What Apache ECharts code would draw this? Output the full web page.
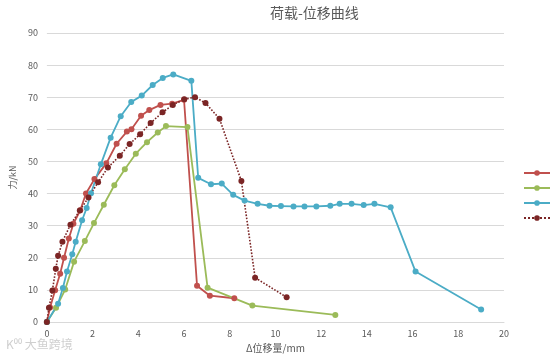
<!DOCTYPE html>
<html><head><meta charset="utf-8">
<script src="https://cdn.jsdelivr.net/npm/echarts@6/dist/echarts.min.js"></script>
<style>html,body{margin:0;padding:0;background:#fff}#c{width:554px;height:358px}</style>
</head><body><div id="c"></div>
<script>
const seriesNames = ['试件1', '试件2', '试件3', '试件4'];
const xTicks = [0, 2, 4, 6, 8, 10, 12, 14, 16, 18, 20];
const yTicks = [0, 10, 20, 30, 40, 50, 60, 70, 80, 90];
const redData = [[0,0],[0.14,4.5],[0.36,9.9],[0.58,15],[0.75,20],[0.96,26],[1.16,30.6],[1.46,34.8],[1.71,40],[2.08,44.5],[2.60,49.4],[3.05,55.5],[3.50,59.3],[3.70,60],[4.12,64.2],[4.48,66],[4.97,67.6],[5.48,68],[6.0,69.2],[6.57,11.3],[7.13,8.2],[8.2,7.4]];
const greenData = [[0,0],[0.4,4.4],[0.8,10.1],[1.19,18.8],[1.66,25.2],[2.06,30.8],[2.49,36.5],[2.95,42.6],[3.41,47.6],[3.89,52.4],[4.38,56],[4.85,59],[5.21,61],[6.15,60.7],[7.03,10.7],[8.99,5.1],[12.62,2.2]];
const cyanData = [[0,0],[0.49,5.7],[0.70,10.6],[0.88,15.7],[1.11,21.1],[1.26,25.0],[1.54,31.7],[1.74,35.5],[1.93,40.1],[2.36,49.1],[2.79,57.4],[3.23,64.1],[3.69,68.5],[4.15,70.5],[4.63,73.8],[5.07,76],[5.53,77.1],[6.32,75.1],[6.62,44.9],[7.18,42.9],[7.65,43.1],[8.15,39.6],[8.65,37.8],[9.22,36.8],[9.74,36.2],[10.24,36.1],[10.79,36.0],[11.27,36.0],[11.79,36.0],[12.4,36.2],[12.81,36.8],[13.33,36.8],[13.86,36.4],[14.33,36.8],[15.04,35.7],[16.13,15.7],[19.0,3.9]];
const darkRedData = [[0,0],[0.09,4.4],[0.24,9.8],[0.39,16.6],[0.49,20.6],[0.68,25.0],[1.03,30.3],[1.44,34.7],[1.82,38.8],[2.24,43.5],[2.67,48.1],[3.19,51.8],[3.62,55.4],[4.08,58.5],[4.54,62.0],[5.06,65.3],[5.51,67.6],[6.01,69.4],[6.48,70],[6.94,68.2],[7.55,63.3],[8.51,43.9],[9.11,13.8],[10.49,7.7]];
const colors = ['#C0504D', '#9BBB59', '#4BACC6', '#7B2525'];

const chart = echarts.init(document.getElementById('c'), null, {renderer: 'canvas'});
const font = '"Noto Sans CJK SC", "Noto Sans", sans-serif';
function mk(name, data, color, dotted) {
  return {
    name, type: 'line', data, symbol: 'circle', symbolSize: 6,
    itemStyle: {color},
    lineStyle: {color, width: dotted ? 1.6 : 1.8, type: dotted ? 'dotted' : 'solid'},
    emphasis: {disabled: true}, animation: false
  };
}
chart.setOption({
  animation: false,
  textStyle: {fontFamily: font},
  title: {text: '荷载-位移曲线', left: 265, top: 1,
    textStyle: {fontSize: 14, fontWeight: 'normal', color: '#595959', fontFamily: font}},
  legend: {orient: 'vertical', left: 518, top: 163, itemGap: 5, itemWidth: 26, itemHeight: 7,
    textStyle: {fontSize: 10, color: '#595959'}, data: seriesNames},
  grid: {left: 39, right: 50, top: 33, bottom: 35, containLabel: false},
  xAxis: {type: 'value', min: xTicks[0], max: xTicks[xTicks.length-1], interval: 2,
    name: 'Δ位移量/mm', nameLocation: 'middle', nameGap: 21,
    nameTextStyle: {fontSize: 10, color: '#595959'},
    axisLine: {show: true, lineStyle: {color: '#d9d9d9'}}, axisTick: {show: false},
    axisLabel: {fontSize: 9, color: '#595959', margin: 7},
    splitLine: {show: false}},
  yAxis: {type: 'value', min: yTicks[0], max: yTicks[yTicks.length-1], interval: 10,
    name: '力/kN', nameLocation: 'middle', nameGap: 24,
    nameTextStyle: {fontSize: 9, color: '#595959'},
    axisLine: {show: false}, axisTick: {show: false},
    axisLabel: {fontSize: 9, color: '#595959', margin: 9},
    splitLine: {show: true, lineStyle: {color: '#d9d9d9', width: 1}}},
  graphic: [{type: 'text', left: 6, top: 338, style: {text: 'K⁰⁰ 大鱼跨境', fontSize: 12, fill: '#cfcfcf', fontFamily: font}}],
  series: [
    mk(seriesNames[0], redData, colors[0], false),
    mk(seriesNames[1], greenData, colors[1], false),
    mk(seriesNames[2], cyanData, colors[2], false),
    mk(seriesNames[3], darkRedData, colors[3], true)
  ]
});
</script></body></html>
